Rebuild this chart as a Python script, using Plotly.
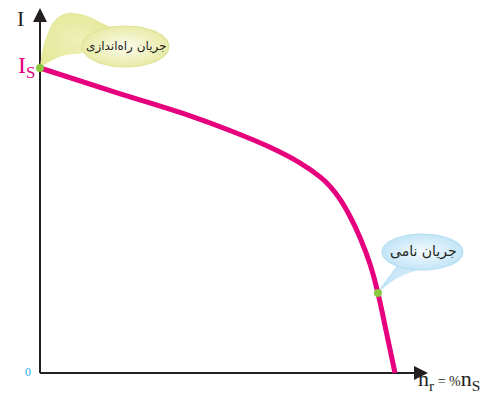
import numpy as np
import plotly.graph_objects as go

# ---- data (x: rotor speed in % of synchronous speed, y: current in % of Is)
speed = [0, 21.1, 42.3, 53.5, 64.8, 73.2, 78.9, 81.7, 84.5, 87.3, 90.1, 93.0, 95.2, 97.5, 100]
current = [100, 92.1, 84.3, 79.5, 74.0, 68.9, 64.3, 61.2, 57.0, 51.4, 44.5, 35.6, 26.2, 13.8, 0]
marked_x = [0, 95.2]
marked_y = [100, 26.2]
label_start = "جریان راه‌اندازی"
label_rated = "جریان نامی"

W, H = 487, 394
L, B = 40, 21
SX, SY = 3.55, 3.05

def dx(p):
    return (p - L) / SX

def dy(p):
    return (H - B - p) / SY

fig = go.Figure()

def blob(pts, edge, center):
    fig.add_trace(go.Scatter(x=[dx(a) for a, b in pts], y=[dy(b) for a, b in pts], mode="lines",
                             fill="toself", line=dict(width=0, shape="spline"),
                             fillgradient=dict(type="radial", colorscale=[[0, center], [1, edge]]),
                             hoverinfo="skip", showlegend=False))

def ellipse(cx, cy, rx, ry, edge, center, border):
    t = np.linspace(0, 2 * np.pi, 90)
    fig.add_trace(go.Scatter(x=dx(cx + rx * np.cos(t)), y=dy(cy + ry * np.sin(t)), mode="lines",
                             fill="toself", line=dict(width=1.2, color=border),
                             fillgradient=dict(type="radial", colorscale=[[0, center], [1, edge]]),
                             hoverinfo="skip", showlegend=False))

# bubble tails
t1 = [(40, 67), (43, 48), (49, 30), (57, 18), (68, 13), (84, 15), (100, 22), (112, 30), (95, 44), (85, 52), (62, 56), (44, 65)]
blob(t1, "#e6e99c", "#eef0b8")
t2 = [(400, 262), (392, 272), (380, 290), (394, 280), (412, 272), (438, 264)]
blob(t2, "#bfe3f6", "#d3ecfa")

ellipse(125.5, 46.5, 43.5, 20.5, "#e8eba6", "#fbfbee", "#e0e39a")
ellipse(422.5, 252, 40.5, 18, "#c3e5f7", "#f4fafd", "#b6dff4")

fig.add_trace(go.Scatter(x=speed, y=current, mode="lines",
                         line=dict(color="#e6007e", width=5, shape="spline", smoothing=1.0),
                         cliponaxis=False, hoverinfo="skip", showlegend=False))
fig.add_trace(go.Scatter(x=marked_x, y=marked_y, mode="markers",
                         marker=dict(color="#8dc63f", size=8), cliponaxis=False,
                         hoverinfo="skip", showlegend=False))

shapes = [
    dict(type="line", xref="x", yref="y", x0=0, x1=dx(418), y0=0, y1=0,
         line=dict(color="#231f20", width=2), layer="below"),
    dict(type="line", xref="x", yref="y", x0=0, x1=0, y0=0, y1=dy(18),
         line=dict(color="#231f20", width=2), layer="below"),
]

ann = [
    dict(x=dx(428), y=0, ax=dx(410), ay=0, xref="x", yref="y", axref="x", ayref="y",
         showarrow=True, arrowhead=2, arrowsize=1.4, arrowwidth=2, arrowcolor="#231f20", text=""),
    dict(x=0, y=dy(8), ax=0, ay=dy(30), xref="x", yref="y", axref="x", ayref="y",
         showarrow=True, arrowhead=2, arrowsize=1.4, arrowwidth=2, arrowcolor="#231f20", text=""),
    dict(x=dx(20), y=dy(18), xref="x", yref="y", text="I", showarrow=False,
         font=dict(family="Liberation Serif", size=22, color="#231f20")),
    dict(x=dx(26), y=dy(67), xref="x", yref="y", text="I<sub>S</sub>", showarrow=False,
         font=dict(family="Liberation Serif", size=24, color="#e6007e")),
    dict(x=dx(28), y=dy(372), xref="x", yref="y", text="0", showarrow=False,
         font=dict(family="Liberation Serif", size=12, color="#29abe2")),
    dict(x=dx(449), y=dy(380), xref="x", yref="y",
         text="n<sub>r</sub><span style='font-size:14px'> = %</span>n<sub>S</sub>", showarrow=False,
         font=dict(family="Liberation Serif", size=22, color="#231f20")),
    dict(x=dx(126), y=dy(46), xref="x", yref="y", text=label_start, showarrow=False,
         font=dict(family="DejaVu Sans", size=12, color="#231f20")),
    dict(x=dx(423), y=dy(251), xref="x", yref="y", text=label_rated, showarrow=False,
         font=dict(family="DejaVu Sans", size=14, color="#231f20")),
]

fig.update_layout(
    width=W, height=H, margin=dict(l=0, r=0, t=0, b=0),
    paper_bgcolor="white", plot_bgcolor="white",
    xaxis=dict(range=[dx(0), dx(W)], visible=False, fixedrange=True),
    yaxis=dict(range=[dy(H), dy(0)], visible=False, fixedrange=True),
    shapes=shapes, annotations=ann, showlegend=False,
)

fig.write_html("out.html", config={"displayModeBar": False},
               post_script="document.body.style.margin='0';document.body.style.overflow='hidden';")
